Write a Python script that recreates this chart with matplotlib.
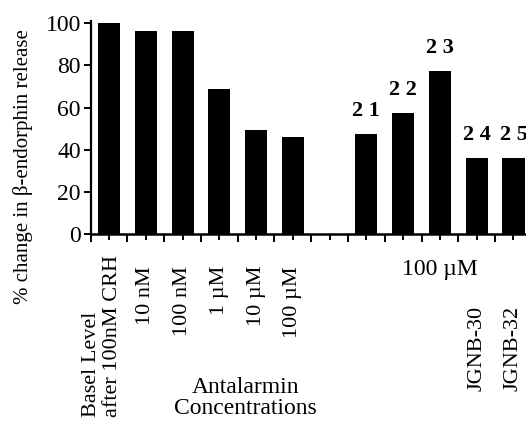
import matplotlib.pyplot as plt
import matplotlib.transforms as mtransforms
import numpy as np

# data
positions = [0, 1, 2, 3, 4, 5, 7, 8, 9, 10, 11]
values = [100, 96.5, 96.5, 69, 49.5, 46, 47.5, 57.5, 77.5, 36, 36]
antalarmin_labels = ["Basel Level\nafter 100nM CRH", "10 nM", "100 nM", "1 µM", "10 µM", "100 µM"]
compound_pos = [7, 8, 9, 10, 11]
compound_ids = ["2 1", "2 2", "2 3", "2 4", "2 5"]
jgnb_pos = [10, 11]
jgnb_labels = ["JGNB-30", "JGNB-32"]
yticks = [0, 20, 40, 60, 80, 100]

plt.rcParams['font.family'] = ['Liberation Serif', 'DejaVu Serif']

W, H = 526, 428
fig = plt.figure(figsize=(W / 100, H / 100), dpi=100)

# axes placed in pixels: y axis at x~91, zero line at y~234, 100 at y~23
slot = 36.77
left_px = 109 - 0.5 * slot
ax = fig.add_axes([left_px / W, (H - 234) / H, 12 * slot / W, 210.7 * 1.01 / H])

ax.bar(positions, values, width=0.6, color='black')
ax.set_xlim(-0.5, 11.5)
ax.set_ylim(0, 101)

for s in ['top', 'right']:
    ax.spines[s].set_visible(False)
ax.spines['left'].set_linewidth(1.6)
ax.spines['bottom'].set_linewidth(1.8)

ax.set_yticks(yticks)
ax.tick_params(axis='y', direction='out', length=5, width=1.4, pad=2, labelsize=17)
ax.set_xticks(np.arange(-0.5, 12, 1.0))
ax.set_xticks(np.arange(0, 12, 1.0), minor=True)
ax.tick_params(axis='x', which='major', direction='out', length=6, width=1.4, labelbottom=False)
ax.tick_params(axis='x', which='minor', direction='out', length=4, width=1.4, labelbottom=False)

# compound numbers above the bars
for p, lab in zip(compound_pos, compound_ids):
    v = values[positions.index(p)]
    ax.annotate(lab, (p, v), xytext=(0, 13), textcoords='offset points',
                ha='center', va='baseline', fontsize=16, fontweight='bold')

# labels below the axis, x in data units, y in figure pixels
trans = mtransforms.blended_transform_factory(ax.transData, fig.transFigure)
def fy(py):
    return 1 - py / H

ax.text(-0.19, fy(255), antalarmin_labels[0], transform=trans, rotation=90,
        ha='center', va='top', multialignment='left', fontsize=16, linespacing=1.2)
for i, lab in enumerate(antalarmin_labels[1:], start=1):
    ax.text(i, fy(266), lab, transform=trans, rotation=90,
            ha='center', va='top', fontsize=16)

ax.text(9, fy(270), "100 µM", transform=trans, ha='center', va='center', fontsize=17)
for p, lab in zip(jgnb_pos, jgnb_labels):
    ax.text(p, fy(306), lab, transform=trans, rotation=90,
            ha='center', va='top', fontsize=16)

ax.text(3.7, fy(398), "Antalarmin\nConcentrations", transform=trans,
        ha='center', va='center', fontsize=17, linespacing=1.05)

fig.text(23 / W, fy(167), "% change in β-endorphin release", rotation=90,
         ha='center', va='center', fontsize=15)

fig.savefig("out.png", dpi=100)
